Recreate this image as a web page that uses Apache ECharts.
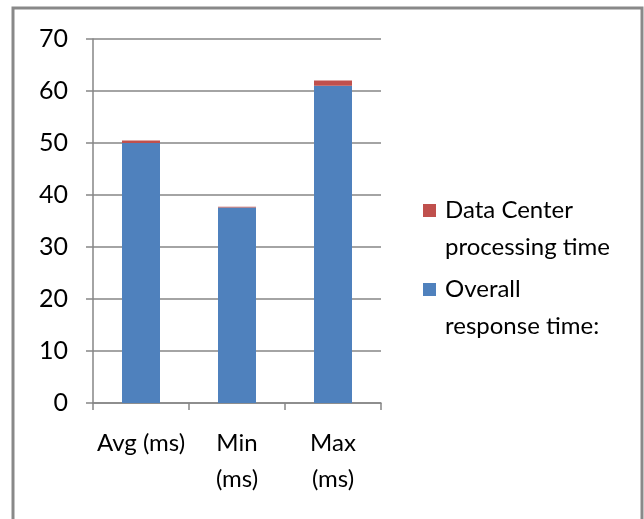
<!DOCTYPE html>
<html>
<head>
<meta charset="utf-8">
<script src="https://cdn.jsdelivr.net/npm/echarts@6/dist/echarts.min.js"></script>
<style>
  html, body { margin: 0; padding: 0; background: #fff; }
  #chart { width: 644px; height: 519px; }
</style>
</head>
<body>
<div id="chart"></div>
<script>
// Response-time measurements, stacked per statistic
const categories = ['Avg (ms)', 'Min\n(ms)', 'Max\n(ms)'];
const overallResponse = [50.0, 37.6, 61.0];
const dataCenterProcessing = [0.5, 0.15, 1.0];
const yTicks = { min: 0, max: 70, interval: 10 };

const FONT = 'Lato, "Open Sans", sans-serif';
const FS = 24;
const LH = 37;

const chart = echarts.init(document.getElementById('chart'), null, { renderer: 'canvas' });

// A blank first line keeps the swatch level with the first line of each label
const legendText = {
  fontFamily: FONT, fontSize: FS, color: '#000', lineHeight: LH,
  padding: [0, 0, 0, 4]
};

chart.setOption({
  animation: false,
  backgroundColor: '#ffffff',
  graphic: [{
    type: 'rect',
    shape: { x: 13, y: 8, width: 629, height: 560 },
    style: { fill: 'none', stroke: '#898989', lineWidth: 3 },
    silent: true
  }],
  grid: { left: 93, top: 39, right: 263, bottom: 116, containLabel: false },
  legend: [{
    data: ['Data Center processing time'],
    orient: 'vertical', left: 423, top: 155,
    itemWidth: 13, itemHeight: 13, itemGap: 0, icon: 'rect', padding: 0,
    formatter: () => ' \nData Center\nprocessing time',
    textStyle: legendText
  }, {
    data: ['Overall response time:'],
    orient: 'vertical', left: 423, top: 234,
    itemWidth: 13, itemHeight: 13, itemGap: 0, icon: 'rect', padding: 0,
    formatter: () => ' \nOverall\nresponse time:',
    textStyle: legendText
  }],
  xAxis: {
    type: 'category',
    data: categories,
    axisLine: { lineStyle: { color: '#868686', width: 1.5 } },
    axisTick: { show: true, length: 7, lineStyle: { color: '#868686', width: 1.5 } },
    axisLabel: {
      interval: 0,
      fontFamily: FONT, fontSize: FS, color: '#000', lineHeight: 36, margin: 22
    }
  },
  yAxis: {
    type: 'value',
    min: yTicks.min, max: yTicks.max, interval: yTicks.interval,
    axisLine: { show: true, lineStyle: { color: '#868686', width: 1.5 } },
    axisTick: { show: true, length: 7, lineStyle: { color: '#868686', width: 1.5 } },
    splitLine: { show: true, lineStyle: { color: '#868686', width: 1.5 } },
    axisLabel: { fontFamily: FONT, fontSize: 25, color: '#000', margin: 25 }
  },
  series: [{
    name: 'Overall response time:',
    type: 'bar', stack: 'rt',
    data: overallResponse,
    barWidth: 38,
    itemStyle: { color: '#4F81BD' }
  }, {
    name: 'Data Center processing time',
    type: 'bar', stack: 'rt',
    data: dataCenterProcessing,
    barWidth: 38,
    itemStyle: { color: '#C0504D' }
  }]
});
</script>
</body>
</html>
